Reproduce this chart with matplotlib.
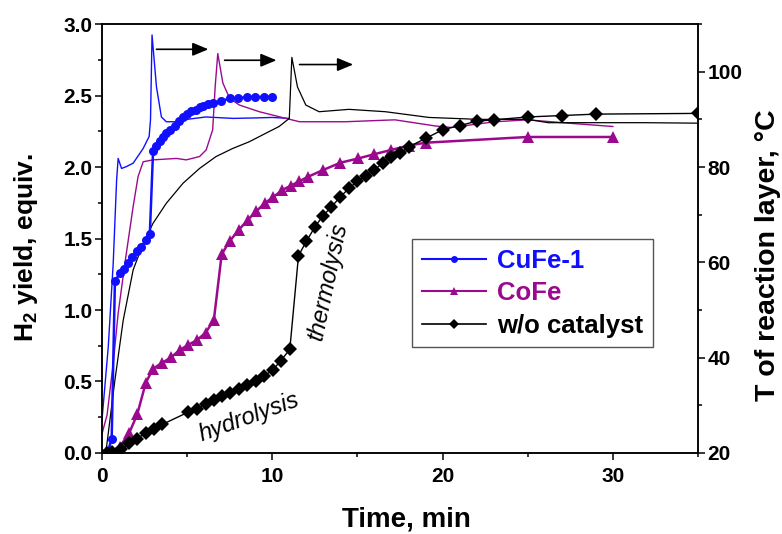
#!/usr/bin/env python3
"""
H2 release from the reaction layer: yield (left axis, markers) and
temperature of the layer (right axis, thin lines) versus time.
"""
import matplotlib
matplotlib.use("Agg")
import matplotlib.pyplot as plt
from matplotlib.lines import Line2D
from matplotlib.ticker import MultipleLocator

# --- H2 yield, equiv. -------------------------------------------------------
cufe_time = [0.15, 0.35, 0.57, 0.76, 1.05, 1.29, 1.53, 1.79, 2.05, 2.32, 2.61, 2.81,
             3.0, 3.2, 3.39, 3.59, 3.78, 4.02, 4.27, 4.5, 4.76, 4.99, 5.24, 5.5,
             5.73, 5.96, 6.2, 6.5, 7.0, 7.5, 8.0, 8.5, 9.0, 9.5, 10.0]
cufe_yield = [0.0, 0.01, 0.10, 1.20, 1.26, 1.29, 1.33, 1.37, 1.41, 1.44, 1.49, 1.53,
              2.11, 2.15, 2.18, 2.21, 2.24, 2.26, 2.29, 2.32, 2.35, 2.37, 2.39, 2.40,
              2.42, 2.43, 2.44, 2.45, 2.46, 2.48, 2.48, 2.49, 2.49, 2.49, 2.49]

cofe_time = [0.8, 1.05, 1.6, 2.07, 2.57, 3.0, 3.53, 4.07, 4.56, 5.05, 5.58, 6.08,
             6.57, 7.03, 7.49, 8.03, 8.56, 9.05, 9.59, 10.06, 10.6, 11.1, 11.58,
             12.07, 13.0, 14.0, 15.05, 16.0, 17.0, 18.0, 19.0, 25.0, 30.0]
cofe_yield = [0.0, 0.044, 0.14, 0.27, 0.49, 0.59, 0.63, 0.67, 0.72, 0.755, 0.79, 0.84,
              0.93, 1.39, 1.48, 1.56, 1.63, 1.69, 1.75, 1.79, 1.84, 1.87, 1.90,
              1.93, 1.98, 2.03, 2.06, 2.09, 2.12, 2.15, 2.17, 2.21, 2.21]

nocat_time = [0.3, 0.57, 1.09, 1.6, 2.07, 2.57, 3.06, 3.55, 5.05, 5.58, 6.08, 6.57,
              7.06, 7.54, 8.03, 8.52, 9.04, 9.53, 10.02, 10.5, 11.03, 11.54, 12.0,
              12.5, 12.98, 13.47, 13.98, 14.5, 14.99, 15.5, 16.0, 16.5, 17.0, 17.52,
              18.0, 19.0, 20.0, 21.0, 22.0, 23.0, 25.0, 27.0, 29.0, 35.0]
nocat_yield = [0.0, 0.01, 0.026, 0.068, 0.10, 0.14, 0.17, 0.20, 0.285, 0.31, 0.34, 0.37,
               0.40, 0.42, 0.45, 0.475, 0.505, 0.54, 0.58, 0.645, 0.725, 1.38, 1.48,
               1.58, 1.66, 1.72, 1.79, 1.85, 1.90, 1.94, 1.98, 2.03, 2.07, 2.10,
               2.14, 2.20, 2.26, 2.29, 2.32, 2.33, 2.35, 2.36, 2.37, 2.375]

# --- T of reaction layer, degC ---------------------------------------------
cufe_temp_time = [0.0, 0.37, 0.66, 0.86, 0.95, 1.15, 1.44, 1.83, 2.42, 2.77, 2.85,
                  2.94, 3.2, 3.49, 3.78, 4.3, 5.0, 6.1, 7.7, 9.0, 10.0, 11.0]
cufe_temp = [26.9, 42.3, 59.8, 77.3, 81.8, 79.7, 80.1, 80.8, 83.9, 86.4, 89.9,
             107.7, 96.8, 90.5, 89.5, 89.5, 90.0, 90.5, 90.2, 90.3, 90.4, 90.2]

cofe_temp_time = [0.0, 0.3, 0.66, 0.95, 1.35, 1.83, 2.12, 2.42, 3.0, 4.37, 4.95, 5.73,
                  6.12, 6.5, 6.65, 6.8, 7.1, 7.5, 8.07, 9.24, 10.8, 11.6, 14.3, 17.2,
                  19.6, 20.5, 23.1, 25.0, 27.4, 30.0]
cofe_temp = [24.0, 28.0, 38.8, 49.3, 59.9, 71.7, 78.0, 81.1, 81.5, 81.8, 81.5, 82.2,
             83.6, 87.8, 97.0, 103.8, 97.6, 94.4, 93.0, 91.6, 90.2, 89.5, 89.5, 89.9,
             88.6, 88.3, 89.5, 89.9, 89.2, 88.5]

nocat_temp_time = [0.1, 0.27, 0.76, 1.25, 1.83, 2.42, 3.0, 3.78, 4.76, 5.73, 6.7, 7.68,
                   8.65, 9.63, 10.4, 11.0, 11.15, 11.48, 11.97, 12.75, 14.5, 16.65,
                   19.2, 22.1, 25.0, 26.2, 31.85, 35.0]
nocat_temp = [20.0, 21.3, 35.3, 47.9, 58.4, 64.0, 68.2, 72.4, 76.6, 79.7, 82.2, 83.9,
              85.3, 87.1, 88.5, 90.2, 103.0, 96.8, 93.0, 91.6, 92.1, 91.6,
              90.4, 90.0, 90.0, 89.3, 89.3, 89.2]

labels = ["CuFe-1", "CoFe", "w/o catalyst"]

BLUE = "#1010ff"
PURPLE = "#9b0a8e"
BLACK = "#000000"


def setup_fonts() -> None:
    plt.rcParams["font.family"] = ["Liberation Sans", "DejaVu Sans"]
    plt.rcParams["font.weight"] = "bold"
    plt.rcParams["mathtext.fontset"] = "custom"
    plt.rcParams["mathtext.rm"] = "Liberation Sans:bold"
    plt.rcParams["mathtext.bf"] = "Liberation Sans:bold"
    plt.rcParams["mathtext.it"] = "Liberation Sans:bold"


def style_axis(ax) -> None:
    for s in ax.spines.values():
        s.set_linewidth(1.1)
    ax.tick_params(axis="y", which="major", direction="out", length=5, width=1.1,
                   labelsize=15, pad=2)
    ax.tick_params(axis="y", which="minor", direction="out", length=3, width=1.1)
    ax.tick_params(axis="x", which="major", direction="out", length=5, width=1.1,
                   labelsize=15, pad=5)
    ax.tick_params(axis="x", which="minor", direction="out", length=3, width=1.1)


def main() -> None:
    setup_fonts()
    fig = plt.figure(figsize=(7.82, 5.34), dpi=100)
    ax = fig.add_axes([0.1304, 0.1517, 0.7622, 0.8033])
    ax2 = ax.twinx()

    # temperature traces (thin lines, right axis)
    ax2.plot(cufe_temp_time, cufe_temp, color=BLUE, lw=1.0)
    ax2.plot(cofe_temp_time, cofe_temp, color=PURPLE, lw=1.0)
    ax2.plot(nocat_temp_time, nocat_temp, color=BLACK, lw=0.9)

    # yield curves (markers, left axis)
    ax.plot(cufe_time, cufe_yield, color=BLUE, lw=1.8, marker="o", ms=6.5,
            markeredgewidth=0)
    ax.plot(cofe_time, cofe_yield, color=PURPLE, lw=1.8, marker="^", ms=8,
            markeredgewidth=0)
    ax.plot(nocat_time, nocat_yield, color=BLACK, lw=1.0, marker="D", ms=7.2,
            markeredgewidth=0)
    ax.set_zorder(ax2.get_zorder() + 1)
    ax.patch.set_visible(False)

    ax.set_xlim(0, 35)
    ax.set_ylim(0, 3.0)
    ax2.set_ylim(20, 110)
    ax.xaxis.set_major_locator(MultipleLocator(10))
    ax.xaxis.set_minor_locator(MultipleLocator(5))
    ax.yaxis.set_major_locator(MultipleLocator(0.5))
    ax.yaxis.set_minor_locator(MultipleLocator(0.25))
    ax.yaxis.set_major_formatter(plt.FormatStrFormatter("%.1f"))
    ax2.yaxis.set_major_locator(MultipleLocator(20))
    ax2.yaxis.set_minor_locator(MultipleLocator(10))
    ax2.set_yticks([20, 40, 60, 80, 100])
    style_axis(ax)
    style_axis(ax2)

    ax.set_xlabel("Time, min", fontsize=20, fontweight="bold", labelpad=15)
    ax.xaxis.label.set_x(0.51)
    ax.set_ylabel(r"H$_2$ yield, equiv.", fontsize=19, fontweight="bold",
                  labelpad=17)
    ax.yaxis.label.set_y(0.478)
    ax2.set_ylabel("T of reaction layer, °C", fontsize=20.5, fontweight="bold",
                   labelpad=9)
    ax2.yaxis.label.set_y(0.462)

    # shift of the temperature peaks
    for t0, t1, temp in [(3.2, 6.25, 104.7), (7.2, 10.25, 102.4), (11.6, 14.75, 101.5)]:
        ax2.annotate("", xy=(t1, temp), xytext=(t0, temp),
                     arrowprops=dict(arrowstyle="-|>,head_length=0.6,head_width=0.25",
                                     color="black", lw=1.2,
                                     mutation_scale=16, shrinkA=0, shrinkB=0))

    ax.text(8.65, 0.25, "hydrolysis", fontsize=17, fontweight="normal",
            style="italic", rotation=20, ha="center", va="center",
            rotation_mode="anchor")
    ax.text(13.25, 1.2, "thermolysis", fontsize=17, fontweight="normal",
            style="italic", rotation=78, ha="center", va="center",
            rotation_mode="anchor")

    handles = [
        Line2D([], [], color=BLUE, lw=1.5, marker="o", ms=5, markeredgewidth=0),
        Line2D([], [], color=PURPLE, lw=1.5, marker="^", ms=5.5, markeredgewidth=0),
        Line2D([], [], color=BLACK, lw=1.2, marker="D", ms=5, markeredgewidth=0),
    ]
    leg = ax.legend(handles, labels, loc="upper left",
                    bbox_to_anchor=(412 / 782, 1 - 239 / 534),
                    bbox_transform=fig.transFigure,
                    prop={"weight": "bold", "size": 18.5},
                    frameon=True, fancybox=False, framealpha=1,
                    edgecolor="#555555", handlelength=2.5, handletextpad=0.42,
                    labelspacing=0.33, borderpad=0.38, borderaxespad=0)
    leg.get_frame().set_linewidth(1.0)
    for text, col in zip(leg.get_texts(), [BLUE, PURPLE, BLACK]):
        text.set_color(col)

    fig.savefig("out.png", dpi=100)


if __name__ == "__main__":
    main()
